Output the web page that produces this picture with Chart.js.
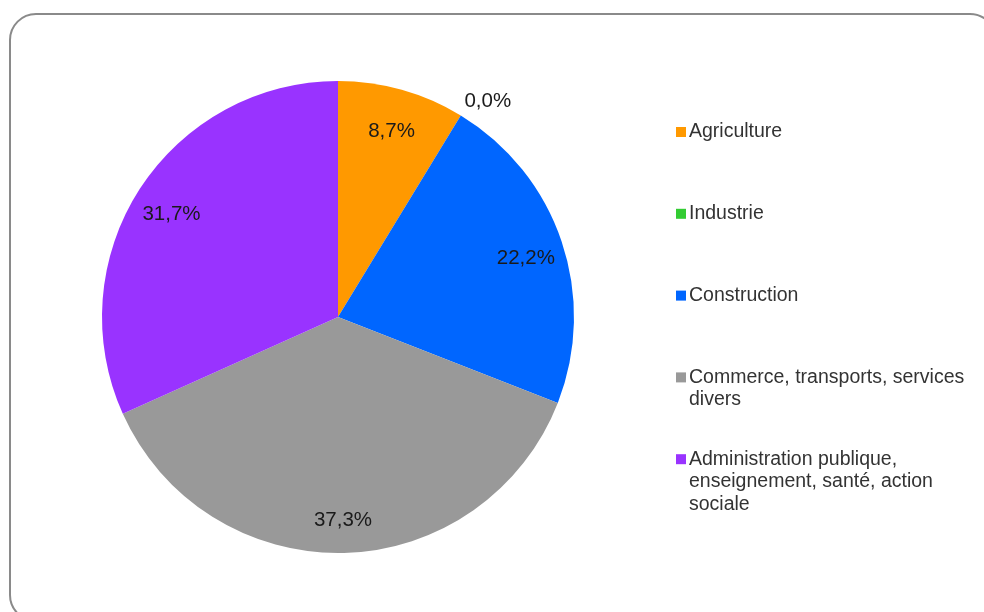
<!DOCTYPE html>
<html>
<head>
<meta charset="utf-8">
<script src="https://cdn.jsdelivr.net/npm/chart.js@4/dist/chart.umd.min.js"></script>
<style>
  html, body { margin: 0; padding: 0; background: #fff; }
  #wrap { width: 984px; height: 612px; }
</style>
</head>
<body>
<div id="wrap"><canvas id="pieChart" width="984" height="612"></canvas></div>
<script>
// Secteurs d'activité
var categories = [
    "Agriculture",
    "Industrie",
    "Construction",
    "Commerce, transports, services divers",
    "Administration publique, enseignement, santé, action sociale"
];
var shares = [8.7, 0.0, 22.2, 37.3, 31.7];
var colors = ['#FF9900', '#33CC33', '#0066FF', '#999999', '#9933FF'];

var FONT = "'Liberation Sans', Arial, sans-serif";

// Rounded frame behind the chart
var framePlugin = {
    id: 'frame',
    beforeDraw: function (chart) {
        var ctx = chart.ctx;
        ctx.save();
        ctx.fillStyle = '#ffffff';
        ctx.fillRect(0, 0, chart.width, chart.height);
        ctx.beginPath();
        ctx.roundRect(10, 14, 986, 607, 26);
        ctx.lineWidth = 2;
        ctx.strokeStyle = '#8a8a8a';
        ctx.stroke();
        ctx.restore();
    }
};

// Percent labels on the slices (zero slices get theirs outside)
var sliceLabels = {
    id: 'sliceLabels',
    afterDatasetsDraw: function (chart) {
        var ctx = chart.ctx;
        var arcs = chart.getDatasetMeta(0).data;
        ctx.save();
        ctx.font = "20.5px " + FONT;
        ctx.fillStyle = '#1a1a1a';
        ctx.textBaseline = 'middle';
        arcs.forEach(function (arc, i) {
            var p = arc.getProps(['x', 'y', 'startAngle', 'endAngle', 'outerRadius'], true);
            var mid = (p.startAngle + p.endAngle) / 2;
            var value = shares[i];
            var r, align, dy;
            if (value > 0) {
                r = p.outerRadius * 0.84;
                align = 'center';
                dy = 5;
            } else {
                r = p.outerRadius * 1.07;
                align = 'left';
                dy = 0;
            }
            ctx.textAlign = align;
            var text = value.toFixed(1).replace('.', ',') + '%';
            ctx.fillText(text, p.x + Math.cos(mid) * r - (value > 0 ? 0 : 5), p.y + Math.sin(mid) * r + dy);
        });
        ctx.restore();
    }
};

function wrapText(ctx, text, maxWidth) {
    var words = text.split(' ');
    var lines = [];
    var line = '';
    words.forEach(function (w) {
        var test = line ? line + ' ' + w : w;
        if (line && ctx.measureText(test).width > maxWidth) {
            lines.push(line);
            line = w;
        } else {
            line = test;
        }
    });
    if (line) lines.push(line);
    return lines;
}

// Legend on the right, one entry per category, wrapped text
var sideLegend = {
    id: 'sideLegend',
    afterDraw: function (chart) {
        var ctx = chart.ctx;
        var boxX = 676, textX = 689, firstY = 132, step = 81.8, lineH = 22.5;
        ctx.save();
        ctx.font = "19.5px " + FONT;
        ctx.textBaseline = 'middle';
        ctx.textAlign = 'left';
        categories.forEach(function (label, i) {
            var y = firstY + i * step;
            ctx.fillStyle = colors[i];
            ctx.fillRect(boxX, y - 5, 10, 10);
            ctx.fillStyle = '#333333';
            wrapText(ctx, label, 288).forEach(function (ln, k) {
                ctx.fillText(ln, textX, y + k * lineH);
            });
        });
        ctx.restore();
    }
};

var ctx = document.getElementById('pieChart').getContext('2d');
var chart = new Chart(ctx, {
    type: 'pie',
    data: {
        labels: categories,
        datasets: [{
            data: shares,
            backgroundColor: colors,
            borderWidth: 0
        }]
    },
    options: {
        responsive: false,
        animation: false,
        layout: {
            padding: { top: 81, bottom: 59, left: 102, right: 410 }
        },
        plugins: {
            legend: { display: false },
            tooltip: { enabled: false }
        }
    },
    plugins: [framePlugin, sliceLabels, sideLegend]
});
</script>
</body>
</html>
